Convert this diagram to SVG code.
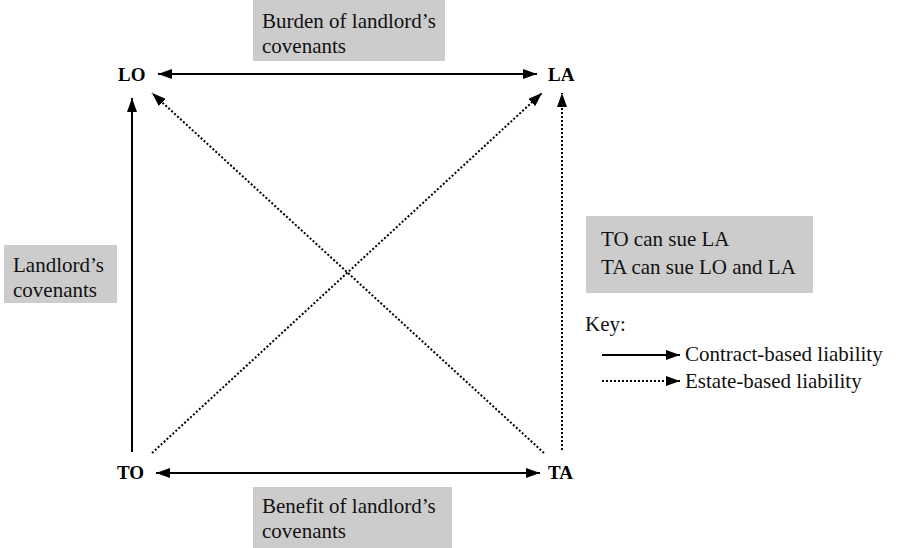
<svg xmlns="http://www.w3.org/2000/svg" width="907" height="548" viewBox="0 0 907 548">
  <style>
    .lbl { font-family: 'Liberation Serif', 'DejaVu Serif', serif; font-size: 21px; fill: #111; }
    .node { font-family: 'Liberation Serif', 'DejaVu Serif', serif; font-size: 19px; font-weight: bold; fill: #000; }
    .box { fill: #cccccc; }
    .solid { stroke: #000; stroke-width: 2; fill: none; }
    .dotted { stroke: #000; stroke-width: 2; fill: none; stroke-dasharray: 2 2; }
  </style>
  <defs>
    <marker id="head" viewBox="0 0 14 10" refX="14" refY="5" markerWidth="14" markerHeight="10" markerUnits="userSpaceOnUse" orient="auto-start-reverse">
      <path d="M0,0 L14,5 L0,10 Z" fill="#000"/>
    </marker>
  </defs>
  <rect width="907" height="548" fill="#fff"/>

  <!-- shaded annotation boxes -->
  <g id="burden">
    <rect class="box" x="253" y="0" width="192" height="61"/>
    <text class="lbl" x="262" y="28">Burden of landlord’s</text>
    <text class="lbl" x="262" y="53">covenants</text>
  </g>
  <g id="benefit">
    <rect class="box" x="253" y="487" width="199" height="61"/>
    <text class="lbl" x="262" y="513">Benefit of landlord’s</text>
    <text class="lbl" x="262" y="538">covenants</text>
  </g>
  <g id="landlords-covenants">
    <rect class="box" x="4" y="245" width="113" height="58"/>
    <text class="lbl" x="13" y="272">Landlord’s</text>
    <text class="lbl" x="13" y="297">covenants</text>
  </g>
  <g id="who-can-sue">
    <rect class="box" x="586" y="216" width="227" height="77"/>
    <text class="lbl" x="601" y="246">TO can sue LA</text>
    <text class="lbl" x="601" y="274">TA can sue LO and LA</text>
  </g>

  <!-- parties -->
  <g id="LO"><text class="node" x="118" y="81">LO</text></g>
  <g id="LA"><text class="node" x="548" y="81">LA</text></g>
  <g id="TO"><text class="node" x="117" y="479">TO</text></g>
  <g id="TA"><text class="node" x="548" y="479">TA</text></g>

  <!-- liabilities -->
  <g id="connectors">
    <line class="solid" x1="158" y1="74" x2="537" y2="74" marker-start="url(#head)" marker-end="url(#head)"/>
    <line class="solid" x1="156" y1="473" x2="540" y2="473" marker-start="url(#head)" marker-end="url(#head)"/>
    <line class="solid" x1="132" y1="452" x2="132" y2="98" marker-end="url(#head)"/>
    <line class="dotted" x1="562" y1="450" x2="562" y2="93" marker-end="url(#head)"/>
    <line class="dotted" x1="152" y1="453" x2="542" y2="93" marker-end="url(#head)"/>
    <line class="dotted" x1="544" y1="453" x2="152" y2="93" marker-end="url(#head)"/>
  </g>

  <!-- key -->
  <g id="key">
    <text class="lbl" x="585" y="331">Key:</text>
    <line class="solid" x1="602" y1="355" x2="680" y2="355" marker-end="url(#head)"/>
    <text class="lbl" x="685" y="361">Contract-based liability</text>
    <line class="dotted" x1="602" y1="381" x2="680" y2="381" marker-end="url(#head)"/>
    <text class="lbl" x="685" y="388">Estate-based liability</text>
  </g>
</svg>
